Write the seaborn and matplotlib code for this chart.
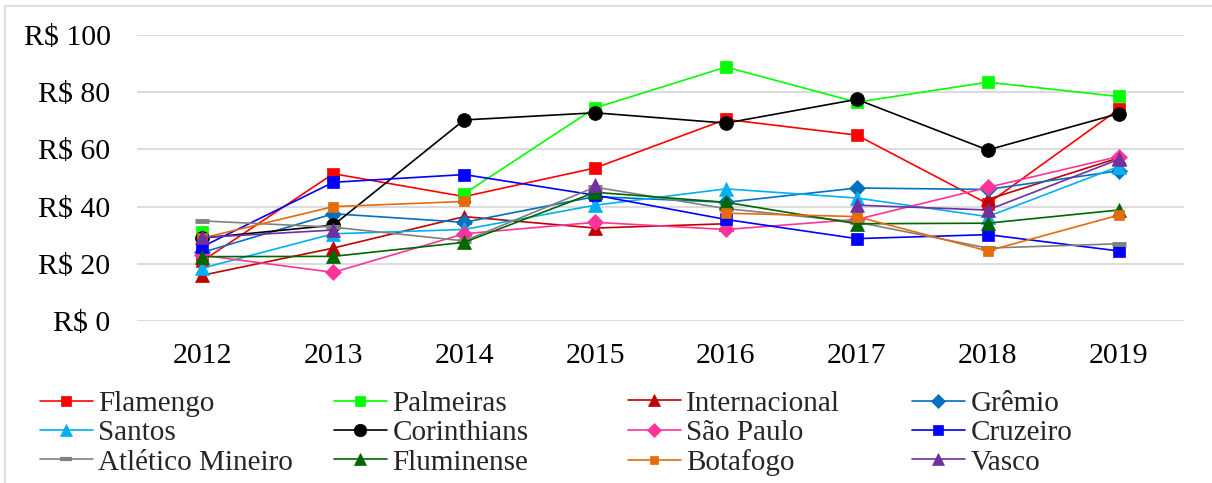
import numpy as np
import pandas as pd
import matplotlib
matplotlib.use('Agg')
import matplotlib.pyplot as plt
from matplotlib.lines import Line2D
import seaborn as sns

nan = np.nan

# Dados (R$)
anos = ['2012', '2013', '2014', '2015', '2016', '2017', '2018', '2019']

flamengo = [21, 51.5, 43.5, 53.5, 70.5, 65, 41, 74]
palmeiras = [31, nan, 44.5, 74.5, 88.8, 76.5, 83.5, 78.5]
internacional = [16, 25.5, 36.5, 32.5, 34, nan, 42.5, 57]
gremio = [24, 37.5, 34.5, 43.5, 41.5, 46.5, 46, 52.5]
santos = [18.5, 30.5, 32, 40.5, 46.2, 43, 36.5, 54]
corinthians = [29, 33.5, 70.3, 72.8, 69.2, 77.5, 59.8, 72.5]
sao_paulo = [23, 17, 30.5, 34.5, 32, 35.5, 46.7, 57.5]
cruzeiro = [26, 48.5, 51.2, 44, 35.5, 28.8, 30.2, 24.5]
atletico_mg = [35, 32.8, 28, 46.8, 39.3, 34.6, 25.5, 27]
fluminense = [22.5, 22.6, 27.5, 45, 41.5, 34, 34.2, 38.8]
botafogo = [29, 40, 41.8, nan, 37.7, 36.5, 24.5, 37]
vasco = [29.2, 31.8, nan, 47.5, nan, 40.5, 38.8, 56.5]

times = ['Flamengo', 'Palmeiras', 'Internacional', 'Grêmio',
         'Santos', 'Corinthians', 'São Paulo', 'Cruzeiro',
         'Atlético Mineiro', 'Fluminense', 'Botafogo', 'Vasco']
valores = [flamengo, palmeiras, internacional, gremio,
           santos, corinthians, sao_paulo, cruzeiro,
           atletico_mg, fluminense, botafogo, vasco]

cores = ['#FF0000', '#00FF00', '#C00000', '#0070C0',
         '#00B0F0', '#000000', '#FF3399', '#0000FF',
         '#808080', '#006600', '#E46C0A', '#7030A0']
marcadores = ['s', 's', '^', 'D', '^', 'o', 'D', 's', '_', '^', 's', '^']
tamanhos = [8.5, 8.5, 9.5, 8, 9.5, 10, 8, 8.5, 10, 9.5, 7, 9.5]

sns.set_theme(style='white')
plt.rcParams['font.family'] = ['Liberation Serif', 'DejaVu Serif']

W, H = 1212, 483
fig = plt.figure(figsize=(W / 100, H / 100), dpi=100)
ax = fig.add_axes([137 / W, 1 - 321 / H, (1184 - 137) / W, (321 - 35) / H])

handles = []
for nome, vals, cor, mk, ms in zip(times, valores, cores, marcadores, tamanhos):
    df = pd.DataFrame({'x': np.arange(len(anos)), 'y': vals})
    # separa em trechos contínuos para manter as lacunas
    df['seg'] = df['y'].isna().cumsum()
    df = df.dropna()
    mew = 3.5 if mk == '_' else 0.5
    sns.lineplot(data=df, x='x', y='y', units='seg', estimator=None, ax=ax,
                 color=cor, linewidth=1.2, marker=mk, markersize=ms,
                 markeredgecolor=cor, markeredgewidth=mew, legend=False,
                 clip_on=False, zorder=3)
    handles.append(Line2D([], [], color=cor, linewidth=1.2, marker=mk,
                          markersize=ms * 0.9, markeredgecolor=cor,
                          markeredgewidth=3 if mk == '_' else 0.5))

ax.set_xlim(-0.5, len(anos) - 0.5)
ax.set_ylim(0, 100)
ax.set_yticks([0, 20, 40, 60, 80, 100])
ax.set_yticklabels(['R$ %d' % v for v in [0, 20, 40, 60, 80, 100]])
ax.set_xticks(np.arange(len(anos)))
ax.set_xticklabels(anos)
ax.tick_params(axis='both', labelsize=21.5, length=0, colors='black')
ax.tick_params(axis='y', pad=19)
ax.tick_params(axis='x', pad=16)
ax.set_xlabel('')
ax.set_ylabel('')
ax.grid(axis='y', color='#D9D9D9', linewidth=1.3)
ax.grid(axis='x', visible=False)
ax.set_axisbelow(True)
for s in ax.spines.values():
    s.set_visible(False)

# legenda: 4 colunas de 3 itens, cada coluna numa posição fixa
col_x = [40, 334, 628, 912]
for c in range(4):
    idx = [c, c + 4, c + 8]
    fig.legend([handles[i] for i in idx], [times[i] for i in idx],
               loc='center left', bbox_to_anchor=(col_x[c] / W, 1 - 433 / H),
               frameon=False, fontsize=21, handlelength=1.8,
               handletextpad=0.2, labelspacing=0.1, borderaxespad=0,
               borderpad=0)

# borda do gráfico
fig.add_artist(Line2D([5 / W, 1], [1 - 6 / H, 1 - 6 / H], color='#D9D9D9', linewidth=1.2))
fig.add_artist(Line2D([5 / W, 5 / W], [0, 1 - 6 / H], color='#D9D9D9', linewidth=1.2))

fig.savefig('out.png', dpi=100)
